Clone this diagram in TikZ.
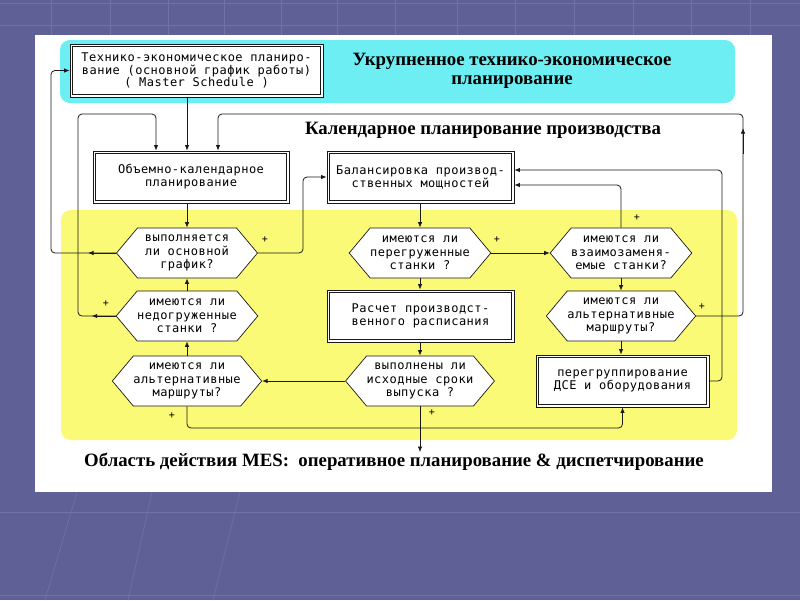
\documentclass[tikz,border=0pt]{standalone}
\usepackage{fontspec}
\setmainfont{Liberation Serif}
\newfontfamily\monof[LetterSpace=4]{DejaVu Sans Mono}
\usetikzlibrary{shapes.symbols,arrows.meta,calc}
\definecolor{bgc}{RGB}{95,97,150}
\definecolor{bgl}{RGB}{112,115,166}
\definecolor{cyanc}{RGB}{108,238,242}
\definecolor{yelc}{RGB}{250,250,118}
\definecolor{linec}{RGB}{25,25,25}
\begin{document}
\begin{tikzpicture}[x=1pt,y=-1pt,
  box/.style={draw=linec, line width=0.8pt, fill=white,
    inner sep=0pt, font=\monof\fontsize{12}{13}\selectfont, align=center, minimum height=52pt},
  innerbox/.style={draw=linec, line width=1.3pt},
  hexa/.style={signal, signal to=east and west, signal pointer angle=100, draw=linec,
    line width=0.7pt, fill=white, inner sep=0pt, minimum height=50pt, minimum width=141pt,
    font=\monof\fontsize{12}{13.5}\selectfont, align=center},
  conn/.style={draw=linec, line width=0.8pt, rounded corners=4pt},
  arr/.style={conn, -{Latex[length=5.5pt,width=4.5pt]}},
  plus/.style={font=\monof\fontsize{10}{10}\selectfont, inner sep=0pt},
  ttl/.style={font=\bfseries\fontsize{18.8}{18.5}\selectfont, align=center, inner sep=0pt},
  gridln/.style={draw=bgl, line width=0.6pt}
]
\useasboundingbox (0,0) rectangle (800,600);
% background
\fill[bgc] (0,0) rectangle (800,600);
\foreach \yy in {3,25,512,595}
  \draw[gridln] (0,\yy) -- (800,\yy);
\foreach \xx in {51,110,168,224,281,337,395,457,515,574,633,691,750}
  \draw[gridln] (\xx,0) -- (\xx,35);
\draw[gridln] (77,492) -- (45,600);
\draw[gridln] (152,492) -- (128,600);
\draw[gridln] (240,492) -- (213,600);
\fill[white] (35,35) rectangle (772,492);
\fill[cyanc, rounded corners=10pt] (60,40) rectangle (735,103);
\fill[yelc, rounded corners=10pt] (61,210) rectangle (737,440);

% titles
\node[ttl] (t1) at (512,71) {Укрупненное технико-экономическое\\планирование};
\node[ttl] (t2) at (483,130) {Календарное планирование производства};
\node[ttl, inner sep=1pt] (mesT) at (394,462) {Область действия MES:~ оперативное планирование \& диспетчирование};

% boxes
\node[box, minimum width=253pt, minimum height=53pt, font=\monof\fontsize{12}{11.5}\selectfont] (master) at (196.5,70.5)
  {Технико-экономическое планиро-\\вание (основной график работы)\\( Master Schedule )};
\node[box, minimum width=196pt] (vol) at (191,177) {Объемно-календарное\\планирование};
\node[box, minimum width=187pt] (bal) at (420.5,177) {Балансировка производ-\\ственных мощностей};
\node[box, minimum width=187pt] (calc) at (420.5,316) {Расчет производст-\\венного расписания};
\node[box, minimum width=173pt] (regr) at (622.5,381) {перегруппирование\\ДСЕ и оборудования};
\foreach \n in {master,vol,bal,calc,regr}
  \draw[innerbox] ($(\n.north west)+(3,3)$) rectangle ($(\n.south east)+(-3,-3)$);

% hexagons
\node[hexa] (h1) at (187,253) {выполняется\\ли основной\\график?};
\node[hexa] (h2) at (420,253) {имеются ли\\перегруженные\\станки ?};
\node[hexa] (h3) at (621,253) {имеются ли\\взаимозаменя-\\емые станки?};
\node[hexa] (h4) at (187,316) {имеются ли\\недогруженные\\станки ?};
\node[hexa] (h5) at (621,316) {имеются ли\\альтернативные\\маршруты?};
\node[hexa] (h6) at (187,381) {имеются ли\\альтернативные\\маршруты?};
\node[hexa] (h7) at (420,381) {выполнены ли\\исходные сроки\\выпуска ?};

% helper coordinates
\coordinate (oL) at (51,114);
\coordinate (iL) at (78,114);
\coordinate (v1) at (156,114);
\coordinate (v3) at (218,114);
\coordinate (oR) at (743,114);
\coordinate (r1) at (303,0);
\coordinate (rR) at (722,0);
\coordinate (bl) at (0,428);
\coordinate (bE1) at ($(bal.east)+(0,-7)$);
\coordinate (bE2) at ($(bal.east)+(0,8)$);

% straight vertical arrows
\draw[arr] (master.south -| h1.north) -- (vol.north -| h1.north);
\draw[arr] (vol.south -| h1.north) -- (h1.north);
\draw[arr] (h4.north) -- (h1.south);
\draw[arr] (h6.north) -- (h4.south);
\draw[arr] (bal.south -| h2.north) -- (h2.north);
\draw[arr] (h2.south) -- (calc.north -| h2.south);
\draw[arr] (calc.south -| h7.north) -- (h7.north);
\draw[arr] (h3.south) -- (h5.north);
\draw[arr] (h5.south) -- (regr.north -| h5.south);
\draw[arr] (h7.south) -- (h7.south |- mesT.north);

% horizontal arrows
\draw[arr] (h2.east) -- (h3.west);
\draw[arr] (h7.west) -- (h6.east);

% loops
\draw[arr] (h1.west) -- (h1.west -| oL) -- (master.west -| oL) -- (master.west);
\draw[arr] (h1.west) -- ++(-28,0);
\draw[arr] (h1.east) -- (h1.east -| r1) -- (bal.west -| r1) -- (bal.west);
\draw[arr] (h4.west) -- (h4.west -| iL) -- (iL) -- (v1) -- (vol.north -| v1);
\draw[arr] (h4.west) -- ++(-24,0);
\draw[arr] (h5.east) -- (h5.east -| oR) -- (oR) -- (v3) -- (vol.north -| v3);
\draw[arr] ($(oR)+(0,40)$) -- ($(oR)+(0,14)$);
\draw[arr] (h6.south) -- (h6.south |- bl) -- (regr.south |- bl) -- (regr.south);
\draw[arr] (h3.north) -- (h3.north |- bE2) -- (bE2);
\draw[arr] (regr.east) -- (regr.east -| rR) -- (bE1 -| rR) -- (bE1);

% plus labels
\node[plus] (p1) at (265,240) {+};
\node[plus] (p2) at (106,304) {+};
\node[plus] (p3) at (497,240) {+};
\node[plus] (p4) at (637,218) {+};
\node[plus] (p5) at (702,307) {+};
\node[plus] (p6) at (172,416) {+};
\node[plus] (p7) at (432,413) {+};
\end{tikzpicture}
\end{document}
